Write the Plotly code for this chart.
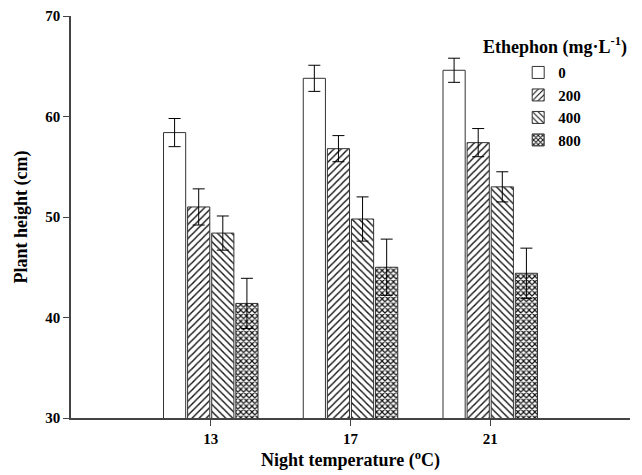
import plotly.graph_objects as go

temps = [13, 17, 21]
ethephon = ["0", "200", "400", "800"]
height_0 = [58.4, 63.8, 64.6]
err_0 = [1.4, 1.3, 1.2]
height_200 = [51.0, 56.8, 57.4]
err_200 = [1.8, 1.3, 1.4]
height_400 = [48.4, 49.8, 53.0]
err_400 = [1.7, 2.2, 1.5]
height_800 = [41.4, 45.0, 44.4]
err_800 = [2.5, 2.8, 2.5]
y_ticks = [30, 40, 50, 60, 70]

heights = [height_0, height_200, height_400, height_800]
errors = [err_0, err_200, err_400, err_800]
patterns = ["", "/", "\\", "x"]
pat_size = [5, 5, 5, 4]
pat_solid = [0.3, 0.28, 0.28, 0.5]

FONT = "Liberation Serif"

fig = go.Figure()
for name, h, e, pat, ps, so in zip(ethephon, heights, errors, patterns, pat_size, pat_solid):
    fig.add_trace(go.Bar(
        x=temps, y=h, name=name,
        marker=dict(color="white", line=dict(color="#333333", width=1),
                    pattern=dict(shape=pat, fgcolor="#111111", bgcolor="white",
                                 fgopacity=1, size=ps, solidity=so)),
        error_y=dict(type="data", array=e, visible=True, color="black",
                     thickness=1, width=6),
    ))

# page body has an 8px margin, so the figure is sized to the visible window
fig.update_layout(
    width=634, height=467,
    margin=dict(l=63, r=12, t=8, b=57),
    paper_bgcolor="white", plot_bgcolor="white",
    barmode="group", bargap=0.31, bargroupgap=0.08,
    font=dict(family=FONT, color="black", size=15),
    showlegend=True,
    legend=dict(x=0.80, y=0.90, xanchor="left", yanchor="top",
                font=dict(family=FONT, size=15, weight="bold"),
                bgcolor="rgba(0,0,0,0)", itemwidth=30, tracegroupgap=0),
    annotations=[dict(text="<b>Ethephon (mg·L<sup>-1</sup>)</b>", x=0.866, y=0.925,
                      xref="paper", yref="paper", showarrow=False,
                      font=dict(family=FONT, size=18), xanchor="center", yanchor="middle")],
)
fig.update_xaxes(
    range=[9, 25], tickvals=temps, ticktext=[str(t) for t in temps], automargin=False,
    showline=True, linecolor="#444444", linewidth=1.5, showgrid=False, zeroline=False,
    ticks="outside", ticklen=6, tickcolor="#444444",
    tickfont=dict(family=FONT, size=15, weight="bold"),
    title=dict(text="<b>Night temperature (<sup>o</sup>C)</b>", font=dict(family=FONT, size=18), standoff=8),
)
fig.update_yaxes(
    range=[30, 70], tickvals=y_ticks, automargin=False,
    showline=True, linecolor="#444444", linewidth=1.5, showgrid=False, zeroline=False,
    ticks="outside", ticklen=6, tickcolor="#444444",
    tickfont=dict(family=FONT, size=15, weight="bold"),
    title=dict(text="<b>Plant height (cm)</b>", font=dict(family=FONT, size=18), standoff=13),
)
fig.write_html("out.html")
